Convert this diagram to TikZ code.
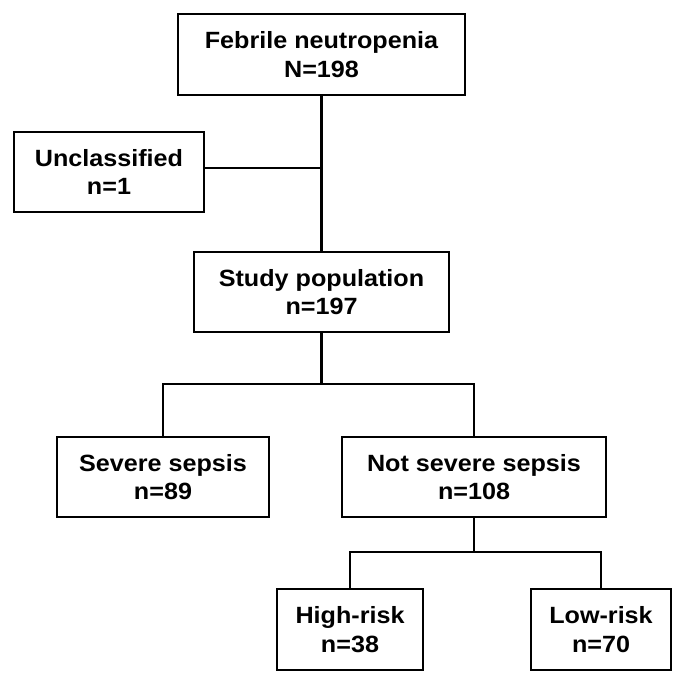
\documentclass[tikz,border=0pt]{standalone}
\usepackage{fontspec}
\setmainfont{Liberation Sans}[FakeStretch=1.07]
\begin{document}
\begin{tikzpicture}[x=1pt,y=-1pt,
  box/.style={draw=black, line width=2.4pt, rectangle, inner sep=0pt, align=center,
    font=\fontsize{23.5}{28.5}\selectfont\bfseries},
  link/.style={draw=black, line width=2.4pt}]
\useasboundingbox[fill=white] (0,0) rectangle (685,685);
\node[box, minimum width=287pt, minimum height=81pt] (A) at (321.5,54.5) {Febrile neutropenia\\N=198};
\node[box, minimum width=190pt, minimum height=80pt] (B) at (109,172) {Unclassified\\n=1};
\node[box, minimum width=255pt, minimum height=80pt] (C) at (321.5,292) {Study population\\n=197};
\node[box, minimum width=212pt, minimum height=80pt] (D) at (163,477) {Severe sepsis\\n=89};
\node[box, minimum width=264pt, minimum height=80pt] (E) at (474,477) {Not severe sepsis\\n=108};
\node[box, minimum width=146.5pt, minimum height=81pt] (F) at (350,629.5) {High-risk\\n=38};
\node[box, minimum width=140pt, minimum height=81pt] (G) at (601,629.5) {Low-risk\\n=70};
\coordinate (j1) at (321.5,168);
\coordinate (j2) at (321.5,384);
\coordinate (j3) at (474,552);
\draw[link] (A.south) -- (C.north);
\draw[link] (B.east |- j1) -- (j1);
\draw[link] (C.south) -- (j2);
\draw[link] (D.north) -- (D.north |- j2) -- (E.north |- j2) -- (E.north);
\draw[link] (E.south) -- (j3);
\draw[link] (F.north) -- (F.north |- j3) -- (G.north |- j3) -- (G.north);
\end{tikzpicture}
\end{document}
